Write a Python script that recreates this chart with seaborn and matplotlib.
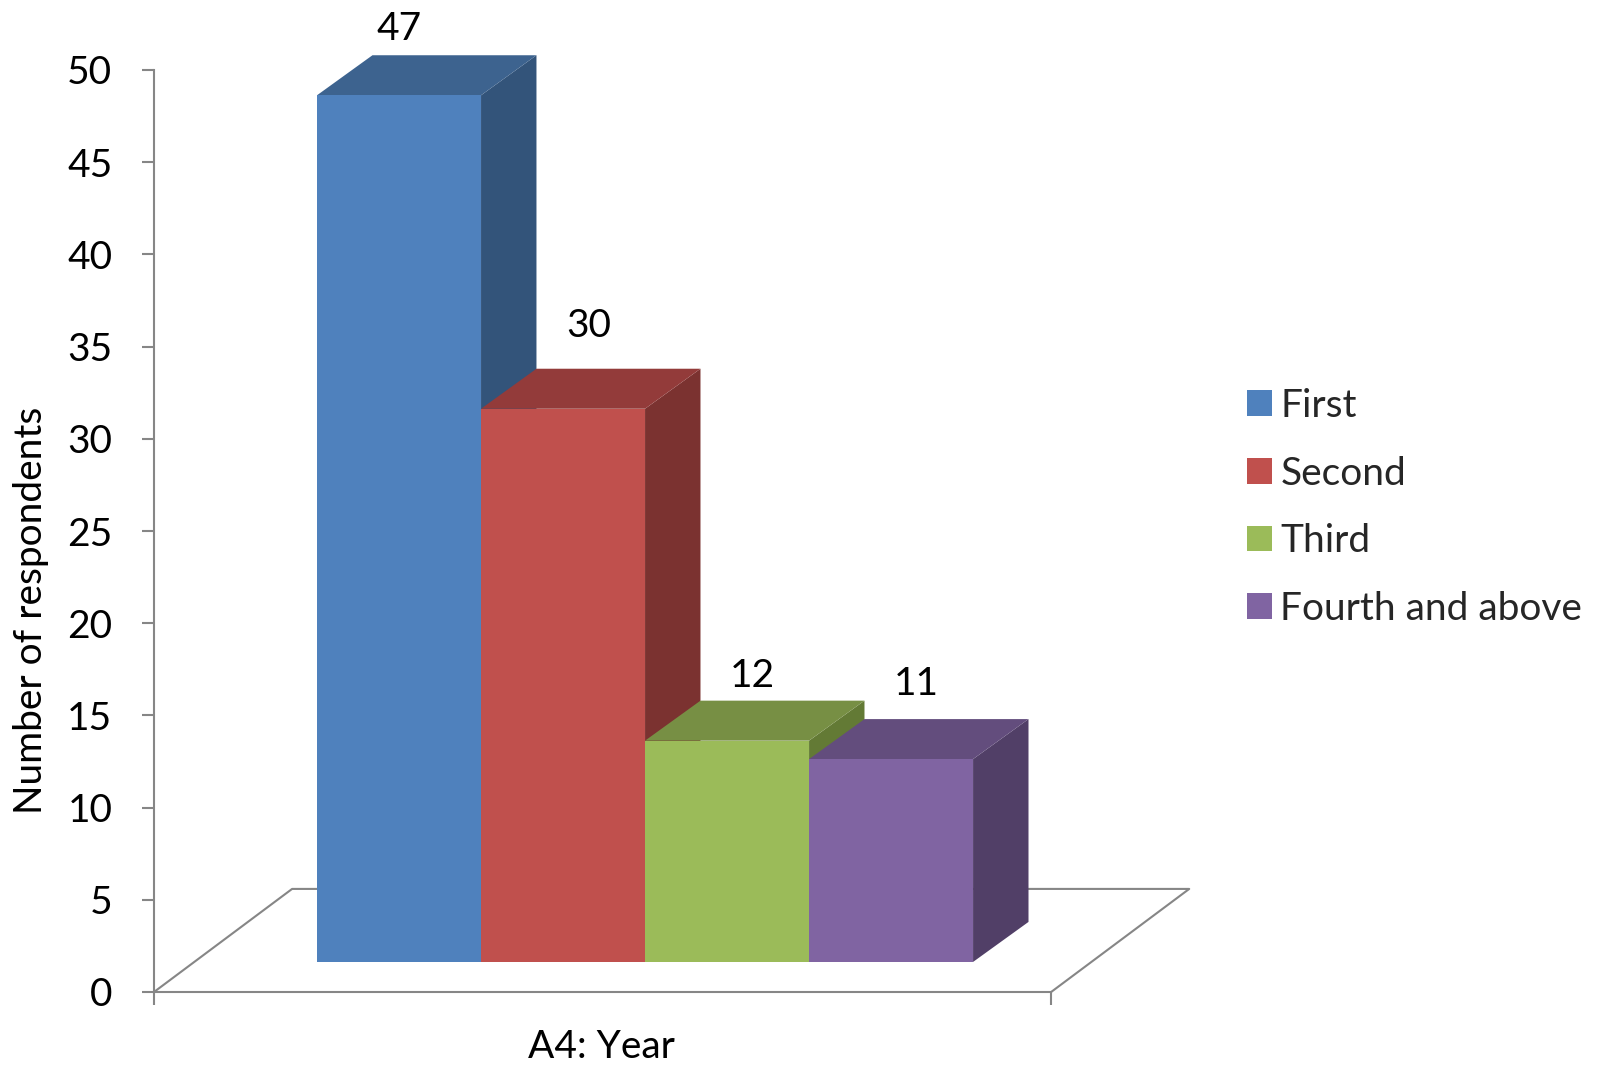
import matplotlib
matplotlib.use("Agg")
import matplotlib.pyplot as plt
import numpy as np
import pandas as pd
import seaborn as sns
from matplotlib.patches import Polygon

# ---------------- data ----------------
categories = ["First", "Second", "Third", "Fourth and above"]
respondents = [47, 30, 12, 11]
y_ticks = [0, 5, 10, 15, 20, 25, 30, 35, 40, 45, 50]
x_title = "A4: Year"
y_title = "Number of respondents"

# ---------------- style ----------------
front_colors = ["#4F81BD", "#C0504D", "#9BBB59", "#8064A2"]
top_colors = ["#3D638F", "#933B3A", "#778F44", "#634D7D"]
side_colors = ["#33547A", "#7B3230", "#637A35", "#513F67"]
gray = "#868686"
FS = 28

# 3D layout (data units)
floor_left, floor_right = -1.494, 3.976
floor_dx, floor_dy = 0.842, 5.59
bar_base = 1.63
depth_dx, depth_dy = 0.338, 2.17
label_dx = [0.0, 0.155, 0.155, 0.155]
label_dy = [4.6, 5.5, 4.55, 5.1]

sns.set_theme(style="white")
plt.rcParams["font.family"] = ["Lato", "DejaVu Sans"]

W, H = 1608, 1071
fig = plt.figure(figsize=(W / 100, H / 100), dpi=100)
ax = fig.add_axes([154 / W, 79 / H, 1039 / W, 922 / H])

df = pd.DataFrame({"Year": categories, "Respondents": respondents})
sns.barplot(data=df, x="Year", y="Respondents", hue="Year",
            palette=front_colors, width=1.0, linewidth=0, saturation=1,
            ax=ax, legend=True)

ax.set_xlim(floor_left, 4.841)
ax.set_ylim(0, 50)

# floor
ax.plot([floor_left, floor_left + floor_dx, floor_right + floor_dx, floor_right],
        [0, floor_dy, floor_dy, 0], color=gray, lw=1.5, zorder=1, clip_on=False)

# 3D faces
for i, cont in enumerate(ax.containers):
    bar = cont.patches[0]
    x0, w, h = bar.get_x(), bar.get_width(), bar.get_height()
    bar.set_y(bar_base)
    bar.set_zorder(10 + 3 * i + 2)
    bar.set_clip_on(False)
    top = bar_base + h
    side = Polygon([(x0 + w, bar_base), (x0 + w + depth_dx, bar_base + depth_dy),
                    (x0 + w + depth_dx, top + depth_dy), (x0 + w, top)],
                   closed=True, fc=side_colors[i], ec="none", zorder=10 + 3 * i,
                   clip_on=False)
    lid = Polygon([(x0, top), (x0 + w, top), (x0 + w + depth_dx, top + depth_dy),
                   (x0 + depth_dx, top + depth_dy)],
                  closed=True, fc=top_colors[i], ec="none", zorder=10 + 3 * i + 1,
                  clip_on=False)
    ax.add_patch(side)
    ax.add_patch(lid)
    ax.text(x0 + w / 2 + label_dx[i], h + label_dy[i], f"{int(h)}",
            ha="center", va="baseline", fontsize=FS, color="black",
            clip_on=False, zorder=30)

# axes styling
for s in ["top", "right"]:
    ax.spines[s].set_visible(False)
ax.spines["left"].set_color(gray)
ax.spines["left"].set_linewidth(1.5)
ax.spines["left"].set_bounds(0, 50)
ax.spines["bottom"].set_color(gray)
ax.spines["bottom"].set_linewidth(1.5)
ax.spines["bottom"].set_bounds(floor_left, floor_right)
ax.set_xticks([floor_left, floor_right], ["", ""])
ax.set_yticks(y_ticks, [str(t) for t in y_ticks])
ax.tick_params(axis="both", direction="out", length=9, width=1.5, color=gray,
               labelsize=FS, labelcolor="black")
ax.tick_params(axis="y", pad=21, left=True)
ax.tick_params(axis="x", bottom=True)

ax.set_ylabel(y_title, fontsize=FS, color="black")
ax.yaxis.set_label_coords(-0.101, 0.414)
ax.set_xlabel(x_title, fontsize=FS, color="black")
ax.xaxis.set_label_coords(0.431, -0.04)

sns.move_legend(ax, "center left", bbox_to_anchor=(1247 / W, 0.5262),
                bbox_transform=fig.transFigure, frameon=False, title=None,
                fontsize=FS, handlelength=0.64, handleheight=0.64,
                handletextpad=0.22, labelspacing=0.815, borderpad=0,
                borderaxespad=0)

fig.savefig("out.png", dpi=100)
